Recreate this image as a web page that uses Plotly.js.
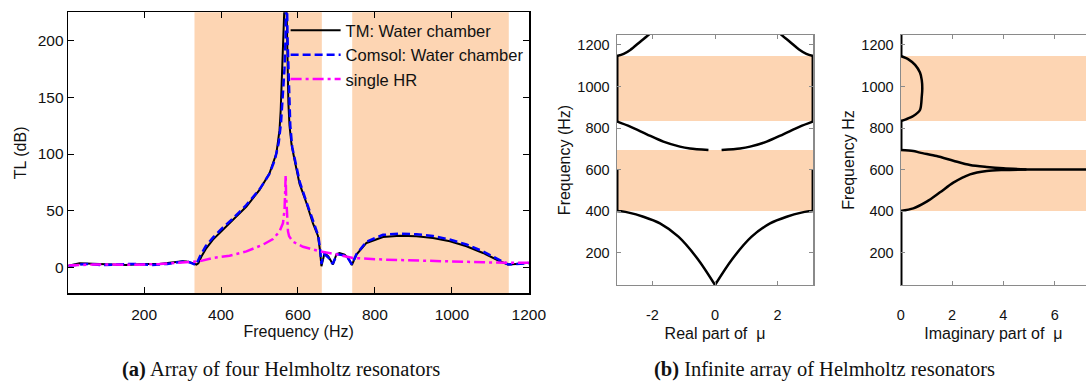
<!DOCTYPE html>
<html>
<head>
<meta charset="utf-8">
<script src="https://cdn.plot.ly/plotly-3.0.1.min.js"></script>
<style>html,body{margin:0;padding:0;background:#fff;}#chart{width:1086px;height:381px;}</style>
</head>
<body>
<div id="chart"></div>
<script>
// ---------- Panel (a): transmission loss ----------
const freqTM = [3, 6, 32, 67, 110, 153, 197, 240, 266, 284, 300, 310, 320, 327, 336, 341, 349, 362, 379, 405, 431, 466, 500, 526, 544, 552, 555, 559, 562, 564, 566, 568, 570, 572, 575, 578, 583, 591, 604, 622, 639, 652, 657, 661, 665, 669, 679, 691, 700, 708, 721, 732, 740, 752, 778, 821, 865, 908, 951, 995, 1038, 1081, 1125, 1146, 1168, 1200];
const tlTM   = [2, 2, 4, 3.5, 3.2, 2.6, 3.5, 3.5, 4.4, 5.2, 5.8, 5.5, 4.8, 4.2, 2.9, 4, 10, 17.4, 24.8, 33.5, 41.7, 53.9, 68.5, 83.1, 100.7, 121, 138, 168, 197, 215, 240, 260, 235, 180, 145, 125, 109, 95, 74, 57, 39, 28, 16, 1.5, 9, 13, 10, 3, 12, 13, 11.7, 8, 2.5, 11.7, 21.9, 27.1, 28.3, 27.7, 26.3, 23.3, 19, 13.1, 5.8, 2.9, 3.5, 4.4];

const freqComsol = [3, 20, 50, 90, 130, 175, 220, 260, 290, 310, 325, 335, 345, 360, 380, 405, 430, 465, 500, 525, 540, 550, 556, 561, 565, 568, 570, 571, 573, 576, 580, 585, 592, 605, 622, 640, 653, 658, 661, 665, 669, 679, 690, 702, 720, 731, 740, 752, 778, 821, 864, 908, 951, 994, 1038, 1081, 1124, 1146, 1168, 1200];
const tlComsol   = [1.5, 2.5, 3.5, 2.5, 3, 3.5, 2.5, 3.5, 5, 6, 4, 2.5, 10, 19, 27, 35.5, 43, 55, 69, 82, 95, 110, 128, 150, 175, 205, 260, 240, 200, 160, 125, 106, 94, 75, 58, 40.5, 28, 15, 3.5, 10, 12, 9, 3.5, 12, 11, 8, 3, 12, 23, 29, 30, 29.5, 28, 25, 20.5, 14.5, 7, 3, 3.5, 4];

const freqHR = [3, 30, 70, 110, 150, 200, 240, 284, 327, 344, 379, 422, 466, 509, 535, 552, 561, 565, 567, 568, 569, 571, 574, 577, 587, 604, 613, 630, 656, 691, 743, 821, 908, 995, 1081, 1142, 1200];
const tlHR   = [2, 2.5, 3, 3, 2.7, 3, 3.3, 4.4, 5.2, 5.8, 8.7, 10.7, 14.5, 20.4, 25.3, 32, 39.3, 51, 70, 81.7, 65, 45, 32, 27.7, 23, 20, 18.5, 17, 14.6, 12.5, 8.7, 7.3, 6.4, 5.2, 4.9, 4.4, 4.4];

const bandsA = [[331, 662], [741, 1148]];
const ticksAx = [200, 400, 600, 800, 1000, 1200];
const ticksAy = [0, 50, 100, 150, 200];
const namesA = ['TM: Water chamber', 'Comsol: Water chamber', 'single HR'];

// ---------- Panel (b): infinite array, Bloch wavenumber mu ----------
const reLowMuR   = [0, 0.53, 1.17, 1.76, 2.29, 2.76, 3.0, 3.1416];
const reLowFreq  = [44.5, 165, 277, 341, 373, 393, 399, 401];
const reEdge1Freq = [401, 600];
const reArchMuR   = [0.21, 0.8, 1.12, 1.65, 2.18, 2.71, 3.1416];
const reArchFreq  = [694.5, 702, 710.5, 734.5, 769.8, 806.8, 832];
const reEdge2Freq = [832, 1147];
const reTopMuR   = [3.1416, 2.92, 2.71, 2.39, 2.13, 2.05];
const reTopFreq  = [1147, 1157, 1176, 1216, 1248, 1260];

const imZeroSegs = [[44.5, 401], [694.5, 834], [1147, 1260]];
const imLowMu   = [0, 0.49, 1.01, 1.53, 2.05, 2.70, 3.35, 4.0, 4.9, 7.5];
const imLowFreq = [401, 413.5, 445.6, 490.6, 537, 577, 593.3, 598, 600, 600];
const imUpMu    = [0, 0.49, 0.75, 1.40, 2.05, 2.70, 3.35, 4.0, 4.9];
const imUpFreq  = [694.5, 690, 681.6, 665.5, 643, 622, 612.5, 606, 601];
const imLoopMu   = [0, 0.2, 0.49, 0.75, 0.82, 0.84, 0.82, 0.75, 0.56, 0.3, 0];
const imLoopFreq = [834, 842, 858, 887, 951, 991, 1031, 1067, 1104, 1131, 1147];

const bandsB = [[401, 694.5], [834, 1147]];
const ticksBy = [200, 400, 600, 800, 1000, 1200];
const ticksB1x = [-2, 0, 2];
const ticksB1text = ['-2', '0', '2'];
const ticksB2x = [0, 2, 4, 6];

// ---------- traces ----------
const FONT = 'Liberation Sans, Arial, sans-serif';
const traces = [];
traces.push({x: freqTM, y: tlTM, name: namesA[0], type: 'scatter', mode: 'lines',
  line: {color: '#000000', width: 2}, xaxis: 'x', yaxis: 'y'});
traces.push({x: freqComsol, y: tlComsol, name: namesA[1], type: 'scatter', mode: 'lines',
  line: {color: '#0000FF', width: 2.5, dash: '8px,4px'}, xaxis: 'x', yaxis: 'y'});
traces.push({x: freqHR, y: tlHR, name: namesA[2], type: 'scatter', mode: 'lines',
  line: {color: '#FF00FF', width: 2.5, dash: '11px,4px,3px,4px'}, xaxis: 'x', yaxis: 'y'});

function bline(x, y, ax, w, smooth) {
  const ln = {color: '#000000', width: w || 2.5};
  if (smooth) { ln.shape = 'spline'; ln.smoothing = 0.8; }
  traces.push({x: x, y: y, type: 'scatter', mode: 'lines', showlegend: false, hoverinfo: 'skip',
    line: ln, xaxis: 'x' + ax, yaxis: 'y' + ax});
}
const neg = a => a.map(v => -v);
// real part
bline(reLowMuR, reLowFreq, 2, 2.5, true);
bline(neg(reLowMuR), reLowFreq, 2, 2.5, true);
bline([-Math.PI, -Math.PI], reEdge1Freq, 2, 3.5);
bline([Math.PI, Math.PI], reEdge1Freq, 2, 3.5);
bline(neg(reArchMuR), reArchFreq, 2, 2.5, true);
bline(reArchMuR, reArchFreq, 2, 2.5, true);
bline([-Math.PI, -Math.PI], reEdge2Freq, 2, 3.5);
bline([Math.PI, Math.PI], reEdge2Freq, 2, 3.5);
bline(neg(reTopMuR), reTopFreq, 2, 2.5, true);
bline(reTopMuR, reTopFreq, 2, 2.5, true);
// imaginary part
imZeroSegs.forEach(s => bline([0, 0], s, 3, 3.5));
bline(imLowMu, imLowFreq, 3, 2.5, true);
bline(imUpMu, imUpFreq, 3, 2.5, true);
bline(imLoopMu, imLoopFreq, 3, 2.5, true);

// ---------- shapes ----------
const PEACH = '#FDD5B3';
const shapes = [];
bandsA.forEach(b => shapes.push({type: 'rect', xref: 'x', yref: 'y domain', x0: b[0], x1: b[1], y0: 0, y1: 1,
  fillcolor: PEACH, line: {width: 0}, layer: 'below'}));
['2', '3'].forEach(ax => bandsB.forEach(b => shapes.push({type: 'rect', xref: 'x' + ax + ' domain', yref: 'y' + ax,
  x0: 0, x1: 1, y0: b[0], y1: b[1], fillcolor: PEACH, line: {width: 0}, layer: 'below'})));

const axA = {showgrid: false, zeroline: false, showline: true, linecolor: '#000', linewidth: 1.6, mirror: 'ticks',
  ticks: 'inside', ticklen: 6, tickcolor: '#000', tickfont: {family: FONT, size: 15.5, color: '#111'}};
const axB = {showgrid: false, zeroline: false, showline: true, linecolor: '#8a8a8a', linewidth: 1.2, mirror: 'ticks',
  ticks: 'inside', ticklen: 4, tickcolor: '#8a8a8a', tickfont: {family: FONT, size: 14.5, color: '#111'}};
const titleFont = {family: FONT, size: 16, color: '#111'};

const layout = {
  width: 1086, height: 381,
  margin: {l: 0, r: 0, t: 0, b: 0},
  paper_bgcolor: '#fff', plot_bgcolor: 'rgba(0,0,0,0)',
  showlegend: true,
  legend: {x: 0.263, y: 0.966, xanchor: 'left', yanchor: 'top', bgcolor: 'rgba(0,0,0,0)', borderwidth: 0,
    font: {family: FONT, size: 16.5, color: '#111'}, itemwidth: 50, tracegroupgap: 3},
  xaxis: Object.assign({}, axA, {domain: [0.0629, 0.4871], range: [3, 1200.5], tickvals: ticksAx, anchor: 'y',
    ticklabelstandoff: 6, title: {text: 'Frequency (Hz)', font: titleFont, standoff: 4}}),
  yaxis: Object.assign({}, axA, {domain: [0.2297, 0.9677], range: [-22.5, 224.5], tickvals: ticksAy, anchor: 'x',
    title: {text: 'TL (dB)', font: titleFont, standoff: 7}}),
  xaxis2: Object.assign({}, axB, {domain: [0.5679, 0.7489], range: [-3.1416, 3.1416], tickvals: ticksB1x, ticktext: ticksB1text,
    anchor: 'y2', ticklabelstandoff: 16, title: {text: 'Real part of  μ', font: titleFont, standoff: 6}}),
  yaxis2: Object.assign({}, axB, {domain: [0.2520, 0.9081], range: [44.5, 1248], tickvals: ticksBy, anchor: 'x2',
    ticklabelstandoff: 3, title: {text: 'Frequency (Hz)', font: titleFont, standoff: 2}}),
  xaxis3: Object.assign({}, axB, {domain: [0.8294, 1], range: [0, 7.22], tickvals: ticksB2x, anchor: 'y3',
    ticklabelstandoff: 16, title: {text: 'Imaginary part of  μ', font: titleFont, standoff: 6}}),
  yaxis3: Object.assign({}, axB, {domain: [0.2520, 0.9081], range: [44.5, 1248], tickvals: ticksBy, anchor: 'x3',
    mirror: false, ticklabelstandoff: 3, title: {text: 'Frequency Hz', font: titleFont, standoff: 2}}),
  shapes: shapes,
  annotations: [
    {xref: 'paper', yref: 'paper', x: 280.8 / 1086, y: 1 - 369 / 381, xanchor: 'center', yanchor: 'middle', showarrow: false,
      text: '<b>(a)</b> Array of four Helmholtz resonators', font: {family: 'Liberation Serif, Times New Roman, serif', size: 20.5, color: '#111'}},
    {xref: 'paper', yref: 'paper', x: 824 / 1086, y: 1 - 369 / 381, xanchor: 'center', yanchor: 'middle', showarrow: false,
      text: '<b>(b)</b> Infinite array of Helmholtz resonators', font: {family: 'Liberation Serif, Times New Roman, serif', size: 20.5, color: '#111'}}
  ]
};

Plotly.newPlot('chart', traces, layout, {displayModeBar: false, staticPlot: true});
</script>
</body>
</html>
